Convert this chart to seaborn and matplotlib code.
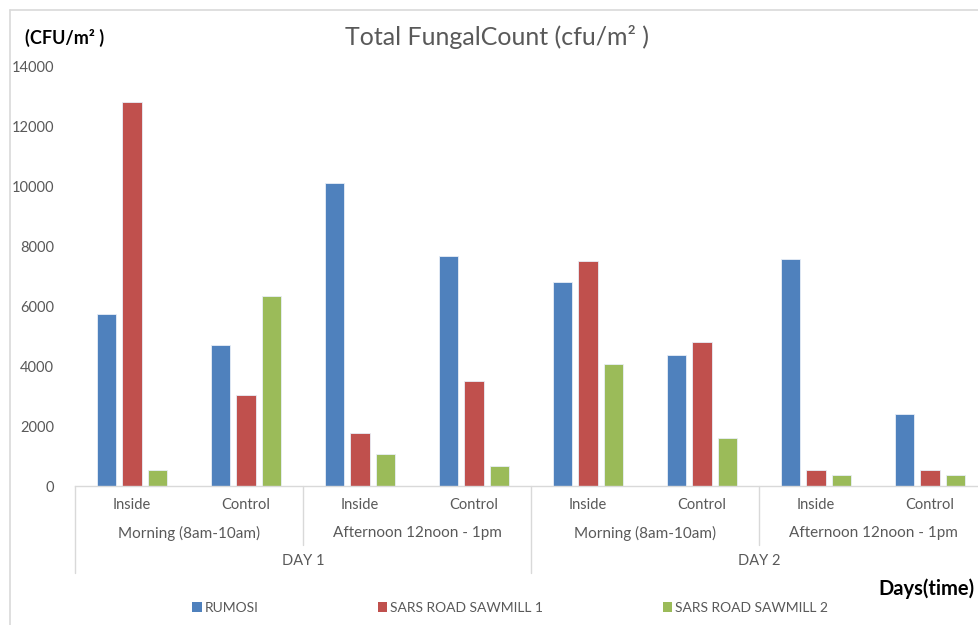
import matplotlib
matplotlib.use("Agg")
import matplotlib.pyplot as plt
import matplotlib.transforms as mtransforms
from matplotlib.patches import Patch
import seaborn as sns
import pandas as pd

# ---- data ----
locations = ["Inside", "Control", "Inside", "Control", "Inside", "Control", "Inside", "Control"]
times = ["Morning (8am-10am)", "Afternoon 12noon - 1pm", "Morning (8am-10am)", "Afternoon 12noon - 1pm"]
days = ["DAY 1", "DAY 2"]
series = ["RUMOSI", "SARS ROAD SAWMILL 1", "SARS ROAD SAWMILL 2"]
rumosi = [5720, 4690, 10090, 7660, 6790, 4360, 7570, 2390]
sawmill1 = [12810, 3030, 1760, 3490, 7490, 4810, 530, 530]
sawmill2 = [520, 6330, 1060, 660, 4070, 1590, 360, 360]
colors = ["#4F81BD", "#C0504D", "#9BBB59"]

keys = [f"{days[i // 4]}|{times[i // 2]}|{locations[i]}" for i in range(len(locations))]
rows = []
for s, vals in zip(series, [rumosi, sawmill1, sawmill2]):
    for k, v in zip(keys, vals):
        rows.append({"key": k, "series": s, "value": v})
df = pd.DataFrame(rows)

sns.set_theme(style="white")
plt.rcParams["font.family"] = ["Lato", "DejaVu Sans"]
grey = "#595959"
line_c = "#D9D9D9"

fig = plt.figure(figsize=(9.79, 6.25), dpi=100)
ax = fig.add_axes([75 / 979, 139 / 625, 912 / 979, 420 / 625])

sns.barplot(data=df, x="key", y="value", hue="series", order=keys,
            hue_order=series, palette=colors, saturation=1, width=0.67, gap=0.24,
            edgecolor="#E8EEF7", linewidth=0.6, ax=ax, legend=False)

ax.set_xlim(-0.5, len(keys) - 0.5)
ax.set_ylim(0, 14000)
ax.set_yticks(range(0, 14001, 2000))
ax.tick_params(axis="y", length=0, pad=15, labelsize=10.5, labelcolor=grey)
ax.set_xticks([])
ax.set_xlabel("")
ax.set_ylabel("")
for sp in ["top", "right", "left"]:
    ax.spines[sp].set_visible(False)
ax.spines["bottom"].set_color(line_c)
ax.spines["bottom"].set_linewidth(1.0)

trans = mtransforms.blended_transform_factory(ax.transData, ax.transAxes)
# level 1 labels
for i, lab in enumerate(locations):
    ax.text(i, -0.045, lab, transform=trans, ha="center", va="center",
            fontsize=10.5, color=grey)
# level 2 labels
for j, lab in enumerate(times):
    ax.text(2 * j + 0.5, -0.112, lab, transform=trans, ha="center", va="center",
            fontsize=11, color=grey)
# level 3 labels
for d, lab in enumerate(days):
    ax.text(4 * d + 1.5, -0.179, lab, transform=trans, ha="center", va="center",
            fontsize=10.5, color=grey)
# separators
for j in range(len(times)):
    x = 2 * j - 0.5
    y1 = -0.207 if j % 2 == 0 else -0.1405
    ax.plot([x, x], [0, y1], transform=trans, color=line_c, lw=1.0, clip_on=False)

# title and labels
fig.text(497 / 979, 1 - 37 / 625, "Total FungalCount (cfu/m\u00b2 )", ha="center",
         va="center", fontsize=18, color=grey)
fig.text(25 / 979, 1 - 38 / 625, "(CFU/m\u00b2 )", ha="left", va="center",
         fontsize=13, fontweight="bold", color="#000000")
fig.text(975 / 979, 1 - 589 / 625, "Days(time)", ha="right", va="center",
         fontsize=14.5, fontweight="bold", color="#000000")

handles = [Patch(facecolor=c, edgecolor="none") for c in colors]
fig.legend(handles, series, loc="center", bbox_to_anchor=(510 / 979, 17 / 625),
           ncol=3, frameon=False, fontsize=10, labelcolor=grey,
           handlelength=0.7, handleheight=0.7, handletextpad=0.2,
           columnspacing=8.6)

# chart border
fig.add_artist(plt.Line2D([10 / 979, 10 / 979], [0, 1 - 10 / 625],
                          transform=fig.transFigure, color=line_c, lw=1.2))
fig.add_artist(plt.Line2D([10 / 979, 1], [1 - 10 / 625, 1 - 10 / 625],
                          transform=fig.transFigure, color=line_c, lw=1.2))

fig.savefig("out.png", dpi=100)
